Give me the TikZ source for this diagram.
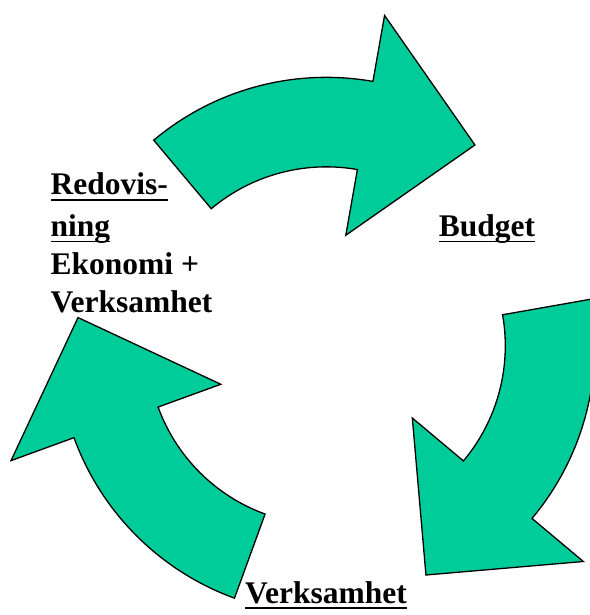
\documentclass[tikz,border=0pt]{standalone}
\usepackage{fontspec}
\setmainfont{Liberation Serif}
\usetikzlibrary{calc}
\definecolor{arrowgreen}{RGB}{0,204,153}
\newcommand{\myul}[1]{\setbox0\hbox{#1}\rlap{\rule[-5.8pt]{\wd0}{1.6pt}}\box0}
\begin{document}
\begin{tikzpicture}[x=1pt,y=1pt,
  arrowshape/.style={fill=arrowgreen, draw=black, line width=1.3pt, line join=miter},
  lbl/.style={anchor=base west, inner sep=0pt, font=\fontsize{31.5}{37}\selectfont\bfseries}]
\useasboundingbox (0,0) rectangle (589,615);
\coordinate (O) at (326.3,269.15);
\foreach \r in {0,-120,-240} {
 \begin{scope}[shift={(O)}, rotate=\r]
  \filldraw[arrowshape] (130:268.5) arc[start angle=130,end angle=80,radius=268.5]
     -- (80:335.5) -- (53.5:249.9) -- (80:112.3) -- (80:179)
     arc[start angle=80,end angle=130,radius=179] -- cycle;
 \end{scope}
}
\node[lbl] (redov) at (50.5,420) {\myul{Redovis-}};
\node[lbl] (ning) at (50.5,378.5) {\myul{ning}};
\node[lbl] (ekon) at (50.5,340) {Ekonomi +};
\node[lbl] (verk1) at (50.5,302) {Verksamhet};
\node[lbl] (budget) at (438.7,378.5) {\myul{Budget}};
\node[lbl] (verk2) at (245,12) {\myul{Verksamhet}};
\end{tikzpicture}
\end{document}
